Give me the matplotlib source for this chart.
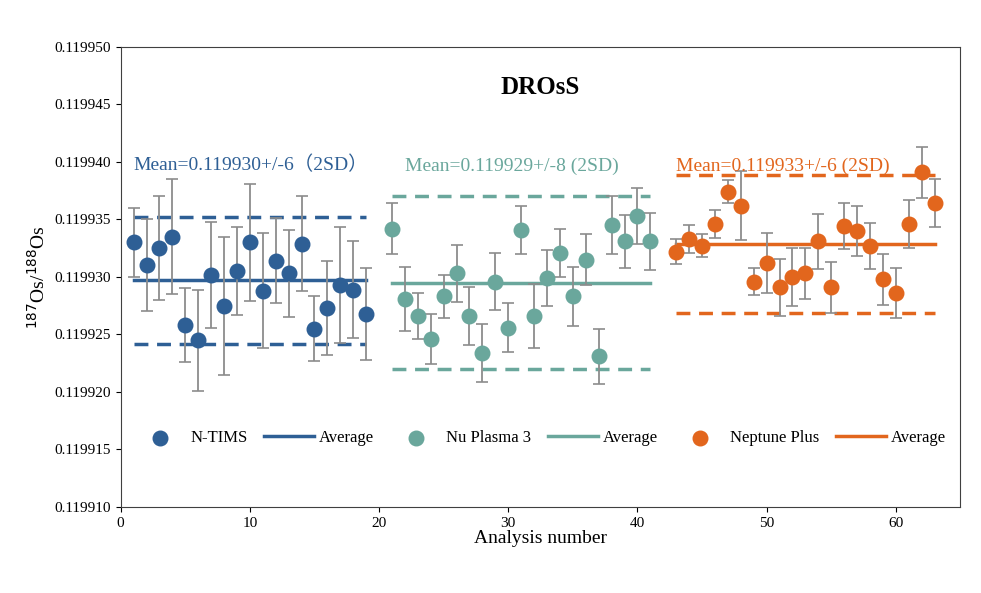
import matplotlib.pyplot as plt
import numpy as np

plt.rcParams['font.family'] = ['Liberation Serif', 'Noto Sans CJK SC', 'DejaVu Serif']

base = 0.119900
scale = 1e-6

ntims_x = list(range(1, 20))
ntims_y = [33.0, 31.0, 32.5, 33.5, 25.8, 24.5, 30.2, 27.5, 30.5, 33.0, 28.8, 31.4, 30.3, 32.9, 25.5, 27.3, 29.3, 28.9, 26.8]
ntims_e = [3.0, 4.0, 4.5, 5.0, 3.2, 4.4, 4.6, 6.0, 3.8, 5.1, 5.0, 3.7, 3.8, 4.1, 2.8, 4.1, 5.0, 4.2, 4.0]

nu_x = list(range(21, 42))
nu_y = [34.2, 28.1, 26.6, 24.6, 28.3, 30.3, 26.6, 23.4, 29.6, 25.6, 34.1, 26.6, 29.9, 32.1, 28.3, 31.5, 23.1, 34.5, 33.1, 35.3, 33.1]
nu_e = [2.2, 2.8, 2.0, 2.2, 1.9, 2.5, 2.5, 2.5, 2.5, 2.1, 2.1, 2.8, 2.4, 2.1, 2.6, 2.2, 2.4, 2.5, 2.3, 2.4, 2.5]

nep_x = list(range(43, 64))
nep_y = [32.2, 33.3, 32.7, 34.6, 37.4, 36.2, 29.6, 31.2, 29.1, 30.0, 30.3, 33.1, 29.1, 34.4, 34.0, 32.7, 29.8, 28.6, 34.6, 39.1, 36.4]
nep_e = [1.1, 1.2, 1.0, 1.2, 1.0, 3.0, 1.2, 2.6, 2.5, 2.5, 2.2, 2.4, 2.2, 2.0, 2.2, 2.0, 2.2, 2.2, 2.1, 2.2, 2.1]

groups = [
    (ntims_x, ntims_y, ntims_e, '#2e5f95', 'N-TIMS', 29.7, 5.5, (1, 19),
     'Mean=0.119930+/-6\uff082SD\uff09', 1),
    (nu_x, nu_y, nu_e, '#6aa79c', 'Nu Plasma 3', 29.5, 7.5, (21, 41),
     'Mean=0.119929+/-8 (2SD)', 22),
    (nep_x, nep_y, nep_e, '#e2661d', 'Neptune Plus', 32.9, 6.0, (43, 63),
     'Mean=0.119933+/-6 (2SD)', 43),
]

fig = plt.figure(figsize=(9.81, 5.93), dpi=100)
ax = fig.add_axes([0.123, 0.145, 0.856, 0.776])

handles = []
for xs, ys, es, c, name, mean, sd, (x0, x1), label, tx in groups:
    yv = base + np.array(ys) * scale
    ev = np.array(es) * scale
    ax.errorbar(xs, yv, yerr=ev, fmt='none', ecolor='#8c8c8c', elinewidth=1.3, capsize=4, capthick=1.2, zorder=2)
    sc = ax.scatter(xs, yv, s=110, color=c, zorder=3, label=name)
    ln, = ax.plot([x0, x1], [base + mean * scale] * 2, color=c, lw=2.5, zorder=1, label='Average')
    ax.plot([x0, x1], [base + (mean + sd) * scale] * 2, color=c, lw=2.5, ls=(0, (4, 2.5)), zorder=1)
    ax.plot([x0, x1], [base + (mean - sd) * scale] * 2, color=c, lw=2.5, ls=(0, (4, 2.5)), zorder=1)
    ax.text(tx, 0.1199389, label, color=c, fontsize=14, va='bottom')
    handles += [sc, ln]

ax.set_xlim(0, 65)
ax.set_ylim(0.119910, 0.119950)
ax.set_xticks([0, 10, 20, 30, 40, 50, 60])
ax.set_yticks(np.arange(0.119910, 0.1199501, 0.000005))
ax.yaxis.set_major_formatter(plt.FuncFormatter(lambda v, p: f'{v:.6f}'))
ax.tick_params(labelsize=11)
ax.set_xlabel('Analysis number', fontsize=14, labelpad=0)
ax.set_ylabel('$^{187}$Os/$^{188}$Os', fontsize=14)
ax.set_title('DROsS', fontsize=18, fontweight='bold', y=0.88)
ax.legend(handles=handles, loc='lower center', bbox_to_anchor=(0.5, 0.1), ncol=6,
          frameon=False, fontsize=12, handlelength=3, columnspacing=1.0, handletextpad=0.3)
for s in ax.spines.values():
    s.set_color('#404040')

fig.savefig('out.png', dpi=100)
